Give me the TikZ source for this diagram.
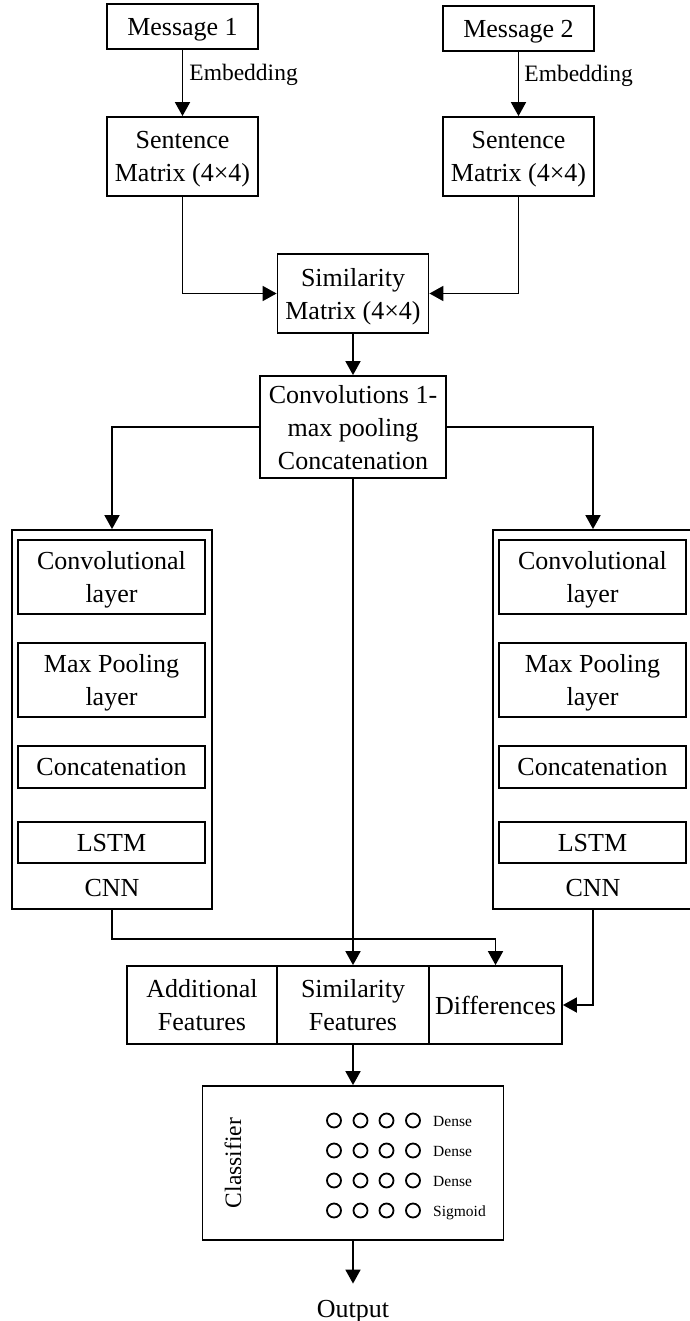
\documentclass[tikz,border=0pt]{standalone}
\usepackage{fontspec}
\setmainfont{Liberation Serif}
\usetikzlibrary{arrows.meta}
\tikzset{
  bx/.style={draw, line width=1.8pt, align=center, font=\fontsize{26}{33}\selectfont, inner sep=0pt, text depth=0pt},
  frame/.style={draw, line width=1.8pt, inner sep=0pt},
  txt/.style={font=\fontsize{26}{33}\selectfont, inner sep=0pt},
  conn/.style={line width=1.8pt, -{Triangle[length=14pt,width=15pt]}},
  lbl/.style={font=\fontsize{23.5}{28}\selectfont, inner sep=0pt},
  small/.style={font=\fontsize{15.5}{18}\selectfont, inner sep=0pt},
  neuron/.style={circle, draw, line width=1.8pt, minimum size=14pt, inner sep=0pt}
}
\begin{document}
\begin{tikzpicture}[x=1pt,y=-1pt]
\useasboundingbox (0,0) rectangle (689,1321);

% inputs
\node[bx, minimum width=151pt, minimum height=45pt] (m1) at (182.5,26.5) {Message 1};
\node[bx, minimum width=151pt, minimum height=45pt] (m2) at (518.5,28.5) {Message 2};
\node[bx, minimum width=151pt, minimum height=79pt] (s1) at (182.5,156.5) {Sentence\\Matrix (4×4)};
\node[bx, minimum width=151pt, minimum height=79pt] (s2) at (518.5,156.5) {Sentence\\Matrix (4×4)};
\node[bx, minimum width=151pt, minimum height=79pt] (sim) at (353,293.5) {Similarity\\Matrix (4×4)};
\node[bx, minimum width=186pt, minimum height=102pt] (conv) at (353,427) {Convolutions 1-\\max pooling\\Concatenation};

% CNN branches
\node[frame, minimum width=200pt, minimum height=379pt] (cnnL) at (112,719.5) {};
\node[frame, minimum width=200pt, minimum height=379pt] (cnnR) at (593,719.5) {};

\node[bx, minimum width=187pt, minimum height=74pt] (cl1) at (111.5,577) {Convolutional\\layer};
\node[bx, minimum width=187pt, minimum height=74pt] (cl2) at (111.5,680) {Max Pooling\\layer};
\node[bx, minimum width=187pt, minimum height=42pt] (cl3) at (111.5,767) {Concatenation};
\node[bx, minimum width=187pt, minimum height=41pt] (cl4) at (111.5,842.5) {LSTM};
\node[txt] (cnnLlab) at (112,888) {CNN};

\node[bx, minimum width=187pt, minimum height=74pt] (cr1) at (592.5,577) {Convolutional\\layer};
\node[bx, minimum width=187pt, minimum height=74pt] (cr2) at (592.5,680) {Max Pooling\\layer};
\node[bx, minimum width=187pt, minimum height=42pt] (cr3) at (592.5,767) {Concatenation};
\node[bx, minimum width=187pt, minimum height=41pt] (cr4) at (592.5,842.5) {LSTM};
\node[txt] (cnnRlab) at (593,888) {CNN};

% feature boxes
\node[bx, minimum width=150pt, minimum height=78pt] (addf) at (202,1005) {Additional\\Features};
\node[bx, minimum width=152pt, minimum height=78pt] (simf) at (353,1005) {Similarity\\Features};
\node[bx, minimum width=133pt, minimum height=78pt] (diff) at (495.5,1005) {Differences};

% classifier
\node[frame, minimum width=301pt, minimum height=154pt] (cls) at (353,1163) {};
\node[lbl, rotate=90] (clslab) at (233,1163) {Classifier};
\foreach \r/\yy/\lab in {1/1120.5/Dense, 2/1150.5/Dense, 3/1180.5/Dense, 4/1210.5/Sigmoid}{
  \foreach \c/\xx in {1/334, 2/360.5, 3/386.5, 4/413}{
    \node[neuron] (n\r\c) at (\xx,\yy) {};
  }
  \node[small, anchor=base west] (d\r) at (433,\yy+5.5) {\lab};
}

\node[txt, anchor=base, inner ysep=16pt] (out) at (353,1317) {Output};

% connectors
\draw[conn] (m1) -- node[lbl, anchor=base west, pos=0.5, xshift=6pt, yshift=2pt] (e1) {Embedding} (s1);
\draw[conn] (m2) -- node[lbl, anchor=base west, pos=0.5, xshift=5pt, yshift=2pt] (e2) {Embedding} (s2);
\draw[conn] (s1.south) |- (sim.west);
\draw[conn] (s2.south) |- (sim.east);
\draw[conn] (sim) -- (conv);
\draw[conn] (conv.west) -| (cnnL.north);
\draw[conn] (conv.east) -| (cnnR.north);
\draw[conn] (conv.south) -- (simf.north);
\draw[conn] (cnnL.south) -- ++(0,29) -| (diff.north);
\draw[conn] (cnnR.south) |- (diff.east);
\draw[conn] (simf.south) -- (cls.north);
\draw[conn] (cls.south) -- (out.north);
\end{tikzpicture}
\end{document}
